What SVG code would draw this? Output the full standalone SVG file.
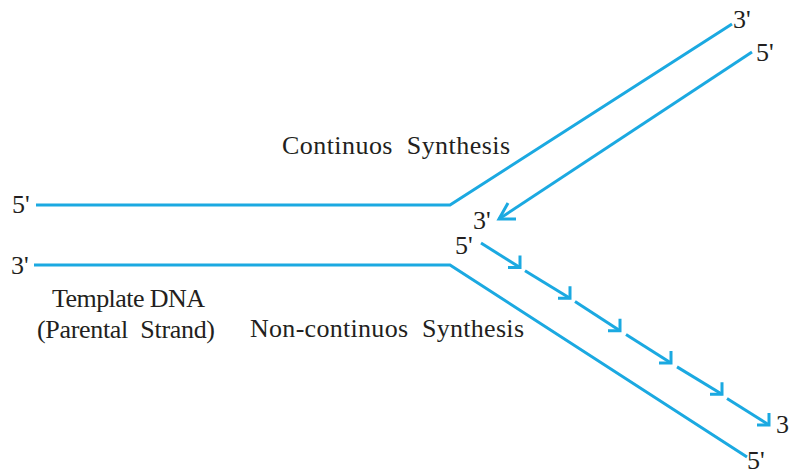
<svg xmlns="http://www.w3.org/2000/svg" width="790" height="474" viewBox="0 0 790 474">
<style>
.s{fill:none;stroke:#1ba9e1;stroke-width:3;stroke-linecap:butt;stroke-linejoin:miter}
.t{font-family:"Liberation Serif","Times New Roman",serif;font-size:26px;fill:#231f20;white-space:pre}
.n{font-family:"Liberation Serif","Times New Roman",serif;font-size:26px;fill:#231f20}
</style>
<defs>
<marker id="ah" markerUnits="userSpaceOnUse" orient="0" markerWidth="30" markerHeight="30" refX="15" refY="15" viewBox="0 0 30 30" overflow="visible">
<path d="M3,15 L15,15 L15,3" fill="none" stroke="#1ba9e1" stroke-width="3"/>
</marker>
<marker id="ah2" markerUnits="userSpaceOnUse" orient="0" markerWidth="30" markerHeight="30" refX="5" refY="20" viewBox="0 0 30 30" overflow="visible">
<path d="M22,20 L5,20 L14,4" fill="none" stroke="#1ba9e1" stroke-width="3"/>
</marker>
</defs>
<g id="connectors">
<polyline id="top-parent" class="s" points="36,205 450,205 732,24"/>
<polyline id="bottom-parent" class="s" points="34,265 450,265 747,457"/>
<line id="leading" class="s" x1="752" y1="52" x2="499" y2="219" marker-end="url(#ah2)"/>
<g id="lagging">
<line class="s" x1="481" y1="243" x2="520" y2="267.6" marker-end="url(#ah)"/>
<line class="s" x1="525" y1="270.8" x2="570" y2="298.2" marker-end="url(#ah)"/>
<line class="s" x1="575" y1="301.4" x2="620" y2="330.8" marker-end="url(#ah)"/>
<line class="s" x1="626" y1="334.6" x2="671" y2="363.1" marker-end="url(#ah)"/>
<line class="s" x1="677" y1="366.9" x2="722" y2="394.3" marker-end="url(#ah)"/>
<line class="s" x1="727" y1="398.5" x2="769" y2="425" marker-end="url(#ah)"/>
</g>
</g>
<g id="labels">
<text class="n" x="12" y="213">5'</text>
<text class="n" x="11" y="274">3'</text>
<text class="n" x="733" y="28">3'</text>
<text class="n" x="756" y="61">5'</text>
<text class="n" x="473" y="229">3'</text>
<text class="n" x="455" y="254">5'</text>
<text class="n" x="776" y="433">3</text>
<text class="n" x="747" y="469">5'</text>
</g>
<g id="continuous-label"><text class="t" xml:space="preserve" x="282" y="154" textLength="228" lengthAdjust="spacing">Continuos  Synthesis</text></g>
<g id="template-label">
<text class="t" x="52" y="307" textLength="153" lengthAdjust="spacing">Template DNA</text>
<text class="t" xml:space="preserve" x="37" y="338" textLength="178" lengthAdjust="spacing">(Parental  Strand)</text>
</g>
<g id="noncontinuous-label"><text class="t" xml:space="preserve" x="250" y="337" textLength="274" lengthAdjust="spacing">Non-continuos  Synthesis</text></g>
</svg>
